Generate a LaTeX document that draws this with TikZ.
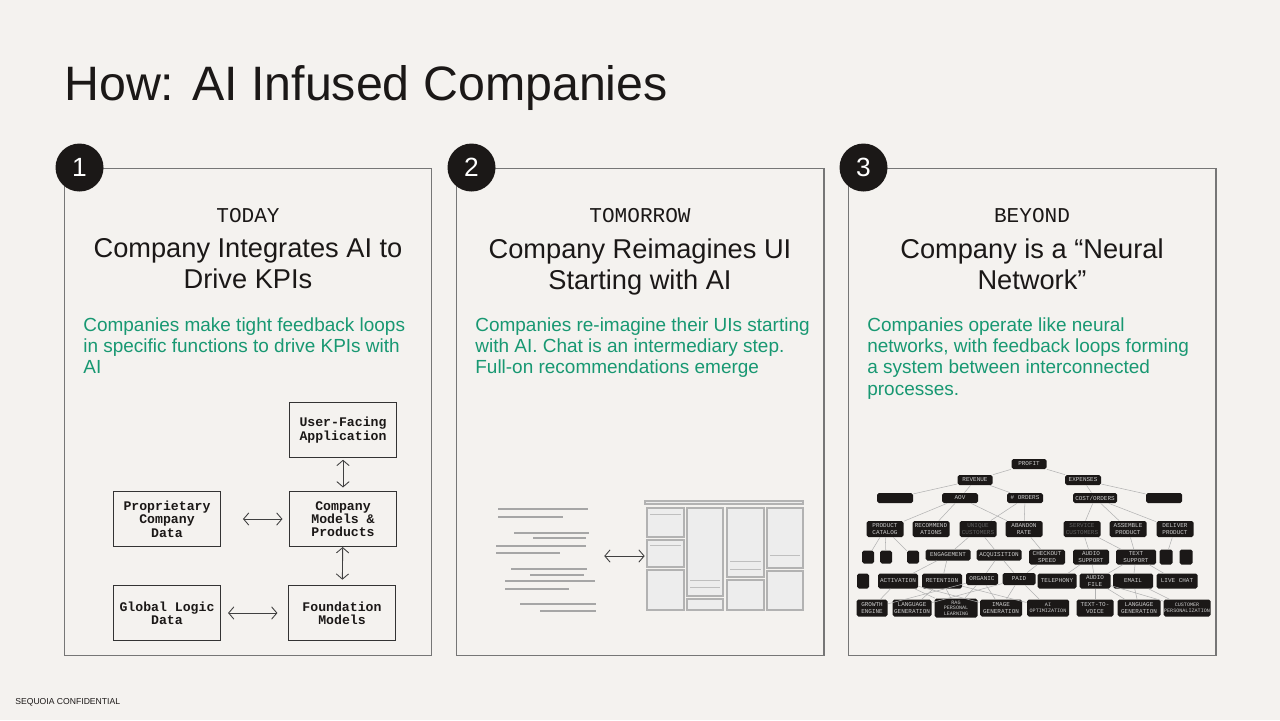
\documentclass[tikz,border=0pt]{standalone}
\usepackage{fontspec}
\setmainfont{Liberation Sans}
\setmonofont{Liberation Mono}
\usetikzlibrary{arrows.meta, positioning}

\definecolor{paper}{RGB}{244,242,239}
\definecolor{ink}{RGB}{27,24,23}
\definecolor{leaf}{RGB}{24,152,114}
\definecolor{rule}{RGB}{118,118,118}

\tikzset{
  panel/.style={draw=rule, line width=0.6pt, minimum width=7.36cm, minimum height=9.76cm},
  numdot/.style={circle, fill=ink, text=white, minimum size=0.96cm, inner sep=0pt, font=\fontsize{15}{15}\selectfont},
  when/.style={text=ink, font=\ttfamily\fontsize{12}{12}\selectfont},
  head/.style={anchor=north, align=center, inner sep=0pt, text=ink, font=\fontsize{15.5}{17.6}\selectfont},
  blurb/.style={anchor=north west, align=left, inner sep=0pt, text=leaf, font=\fontsize{10.8}{12.2}\selectfont},
  sketch/.style={draw=black!80, line width=0.6pt, minimum width=2.14cm, minimum height=1.1cm, align=center, inner sep=1pt, text=ink, font=\ttfamily\bfseries\fontsize{7.5}{7.6}\selectfont},
  twoway/.style={{Straight Barb[length=3pt,width=7pt]}-{Straight Barb[length=3pt,width=7pt]}, draw=black!75, line width=0.5pt},
  chatline/.style={draw=gray!70, line width=0.9pt},
  uicell/.style={draw=gray!60, fill=gray!14, line width=0.6pt},
  nn/.style={fill=ink, rounded corners=1pt, inner sep=0pt, minimum width=0.72cm, minimum height=0.2cm, align=center, text=gray!40, font=\ttfamily\fontsize{3.4}{3.7}\selectfont},
  small/.style={font=\ttfamily\fontsize{2.9}{3.2}\selectfont},
  dimtext/.style={text=gray!75!black},
  boxw/.style={minimum width=#1*0.02cm},
  boxh/.style={minimum height=#1*0.02cm},
  wire/.style={draw=gray!60, line width=0.3pt}
}

\begin{document}
\begin{tikzpicture}[x=0.02cm, y=-0.02cm]
  \fill[paper] (0,0) rectangle (1280,720);
  \useasboundingbox (0,0) rectangle (1280,720);

  % title and footer
  \node[anchor=base west, inner sep=0pt, text=ink, font=\fontsize{27.5}{30}\selectfont] (title) at (64,100) {How: AI Infused Companies};
  \node[anchor=base west, inner sep=0pt, text=ink, font=\fontsize{4.9}{5}\selectfont] (foot) at (15,704) {SEQUOIA CONFIDENTIAL};

  % the three panels
  \foreach \i in {1,2,3}{
    \node[panel] (panel\i) at ({248+392*(\i-1)},412) {};
    \node[numdot] (num\i) at ([xshift=0.32cm]panel\i.north west) {\i};
  }

  \node[when] (when1) at (248,216) {TODAY};
  \node[when] (when2) at (640,216) {TOMORROW};
  \node[when] (when3) at (1032,216) {BEYOND};

  \node[head] (head1) at (248,238) {Company Integrates AI to\\Drive KPIs};
  \node[head] (head2) at (640,238) {Company Reimagines UI\\Starting with AI};
  \node[head] (head3) at (1032,238) {Company is a “Neural\\Network”};

  \node[blurb] (blurb1) at (83,317) {Companies make tight feedback loops\\in specific functions to drive KPIs with\\AI};
  \node[blurb] (blurb2) at (475,317) {Companies re-imagine their UIs starting\\with AI. Chat is an intermediary step.\\Full-on recommendations emerge};
  \node[blurb] (blurb3) at (867,317) {Companies operate like neural\\networks, with feedback loops forming\\a system between interconnected\\processes.};

  % panel 1: today
  \node[sketch] (ufa) at (343,430) {User-Facing\\Application};
  \node[sketch] (pcd) at (167,519) {Proprietary\\Company\\Data};
  \node[sketch] (cmp) at (343,519) {Company\\Models \&\\Products};
  \node[sketch] (gld) at (167,613) {Global Logic\\Data};
  \node[sketch] (fdm) at (342,613) {Foundation\\Models};

  \draw[twoway, shorten <=1pt, shorten >=2pt] (ufa) -- (cmp);
  \draw[twoway, shorten <=12.5pt, shorten >=3.7pt] (pcd) -- (cmp);
  \draw[twoway, shorten >=3pt] (cmp) -- (fdm);
  \draw[twoway, shorten <=4pt, shorten >=6pt] (gld) -- (fdm);

  % panel 2: tomorrow
  \node[minimum width=2cm, minimum height=2.2cm, inner sep=0pt] (chat) at (546,556) {};
  \node[minimum width=3.16cm, minimum height=2.18cm, inner sep=0pt] (ui) at (724,556) {};

  \foreach \a/\b/\y in {498/588/509, 498/563/517, 514/589/533, 533/586/538, 496/586/546, 496/560/553, 511/587/569, 530/584/575, 505/595/581, 505/569/589, 520/596/604, 540/596/611}
    \draw[chatline] (\a,\y) -- (\b,\y);

  \draw[uicell] (645,501) rectangle (803,504);
  \foreach \a/\b/\c/\d in {647/508/684/537, 647/540/684/567, 647/570/684/610, 687/508/723/596, 687/599/723/610, 727/508/764/577, 727/580/764/610, 767/508/803/568, 767/571/803/610}
    \draw[uicell] (\a,\b) rectangle (\c,\d);
  \draw[gray!50, line width=0.4pt] (650,514) -- (681,514) (650,545) -- (681,545) (690,580) -- (720,580) (690,587) -- (720,587) (730,561) -- (761,561) (730,569) -- (761,569) (770,555) -- (800,555);

  \draw[twoway, shorten <=4.5pt] (chat) -- (ui);

  % panel 3: beyond
  \node[nn, boxw=35] (profit) at (1029,464) {PROFIT};
  \node[nn, boxw=35] (rev) at (975,480) {REVENUE};
  \node[nn] (exp) at (1083,480) {EXPENSES};

  \node[nn] (b1) at (895,498) {};
  \node[nn] (aov) at (960,498) {AOV};
  \node[nn] (ord) at (1025,498) {\# ORDERS};
  \node[nn, boxw=44] (cpo) at (1095,498) {COST/ORDERS};
  \node[nn] (b2) at (1164,498) {};

  \node[nn, boxw=37, boxh=16] (cat) at (885,529) {PRODUCT\\CATALOG};
  \node[nn, boxw=37, boxh=16] (rec) at (931,529) {RECOMMEND\\ATIONS};
  \node[nn, boxw=37, boxh=16, dimtext] (uniq) at (978,529) {UNIQUE\\CUSTOMERS};
  \node[nn, boxw=37, boxh=16] (aband) at (1024,529) {ABANDON\\RATE};
  \node[nn, boxw=37, boxh=16, dimtext] (serv) at (1082,529) {SERVICE\\CUSTOMERS};
  \node[nn, boxw=37, boxh=16] (asm) at (1128,529) {ASSEMBLE\\PRODUCT};
  \node[nn, boxw=37, boxh=16] (dlv) at (1175,529) {DELIVER\\PRODUCT};

  \node[nn, boxw=12, boxh=13] (s1) at (868,557) {};
  \node[nn, boxw=12, boxh=13] (s2) at (886,557) {};
  \node[nn, boxw=12, boxh=13] (s3) at (913,557) {};
  \node[nn, boxw=45, boxh=11] (eng) at (948,555) {ENGAGEMENT};
  \node[nn, boxw=45, boxh=11] (acq) at (999,555) {ACQUISITION};
  \node[nn, boxh=15] (chk) at (1047,557) {CHECKOUT\\SPEED};
  \node[nn, boxh=15] (aud) at (1091,557) {AUDIO\\SUPPORT};
  \node[nn, boxw=40, boxh=15] (txt) at (1136,557) {TEXT\\SUPPORT};
  \node[nn, boxw=13, boxh=15] (s4) at (1166,557) {};
  \node[nn, boxw=13, boxh=15] (s5) at (1186,557) {};

  \node[nn, boxw=12, boxh=15] (s6) at (863,581) {};
  \node[nn, boxw=40, boxh=15] (act) at (898,581) {ACTIVATION};
  \node[nn, boxw=40, boxh=15] (ret) at (942,581) {RETENTION};
  \node[nn, boxw=32, boxh=12] (org) at (982,579) {ORGANIC};
  \node[nn, boxw=33, boxh=12] (paid) at (1019,579) {PAID};
  \node[nn, boxw=39, boxh=15] (tel) at (1057,581) {TELEPHONY};
  \node[nn, boxw=31, boxh=15] (afile) at (1095,581) {AUDIO\\FILE};
  \node[nn, boxw=40, boxh=15] (mail) at (1133,581) {EMAIL};
  \node[nn, boxw=41, boxh=15] (live) at (1177,581) {LIVE CHAT};

  \node[nn, boxw=31, boxh=17] (grow) at (872,608) {GROWTH\\ENGINE};
  \node[nn, boxw=39, boxh=17] (lang) at (912,608) {LANGUAGE\\GENERATION};
  \node[nn, boxw=43, boxh=19, small] (rag) at (956,608) {RAG\\PERSONAL\\LEARNING};
  \node[nn, boxw=42, boxh=17] (img) at (1001,608) {IMAGE\\GENERATION};
  \node[nn, boxw=42, boxh=17, small] (aiopt) at (1048,608) {AI\\OPTIMIZATION};
  \node[nn, boxw=37, boxh=17] (ttv) at (1095,608) {TEXT-TO-\\VOICE};
  \node[nn, boxw=43, boxh=17] (lang2) at (1139,608) {LANGUAGE\\GENERATION};
  \node[nn, boxw=47, boxh=17, small] (pers) at (1187,608) {CUSTOMER\\PERSONALIZATION};

  \foreach \p/\c in {profit/rev, profit/exp, rev/b1, rev/aov, rev/ord, exp/cpo, exp/b2, aov/cat, aov/rec, aov/aband, ord/uniq, ord/aband, cpo/serv, cpo/asm, cpo/dlv, cat/s1, cat/s2, cat/s3, uniq/eng, uniq/acq, aband/chk, serv/aud, serv/txt, asm/txt, dlv/s4, eng/act, eng/ret, acq/org, acq/paid, chk/paid, aud/tel, aud/afile, txt/afile, txt/mail, txt/live, act/grow, act/rag, act/img, ret/lang, ret/rag, ret/aiopt, org/grow, org/rag, org/img, paid/lang, paid/img, paid/aiopt, afile/ttv, afile/lang2, afile/pers, mail/lang2, mail/pers}
    \draw[wire] (\p) -- (\c);
\end{tikzpicture}
\end{document}
